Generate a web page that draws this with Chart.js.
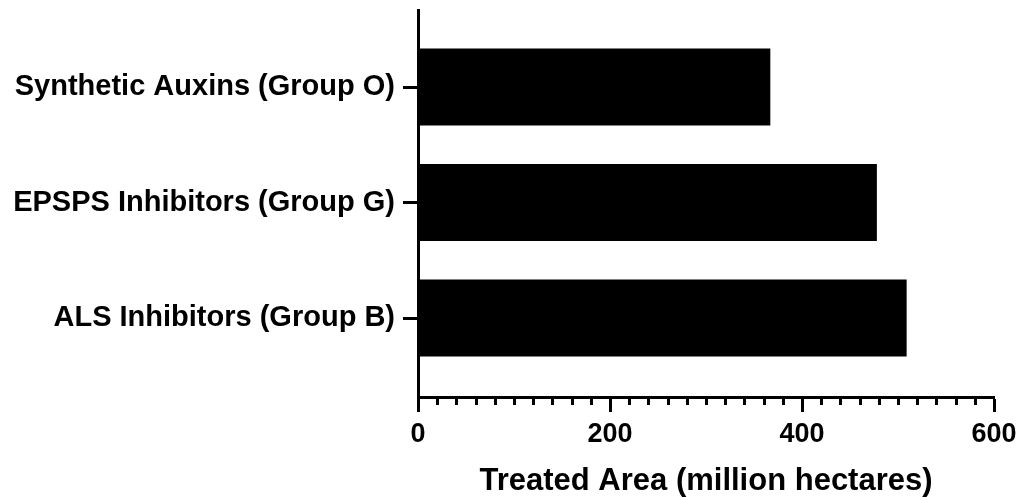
<!DOCTYPE html>
<html>
<head>
<meta charset="utf-8">
<script src="https://cdn.jsdelivr.net/npm/chart.js@4.4.1/dist/chart.umd.min.js"></script>
<style>
  html, body { margin: 0; padding: 0; background: #ffffff; }
  #wrap { width: 1023px; height: 500px; position: relative; }
</style>
</head>
<body>
<div id="wrap"><canvas id="chart"></canvas></div>
<script>
// Herbicide mode-of-action groups, listed top to bottom
const categories = [
  'Synthetic Auxins (Group O)',
  'EPSPS Inhibitors (Group G)',
  'ALS Inhibitors (Group B)'
];
// Treated area, million hectares
const treatedArea = [367, 478, 509];
// Labelled ticks on the value axis
const xTickValues = [0, 200, 400, 600];
const xAxisTitle = 'Treated Area (million hectares)';

const FONT = "'Liberation Sans', Arial, Helvetica, sans-serif";
const MINOR_STEP = 20;

// Short unlabelled ticks between the labelled ones
const minorTicks = {
  id: 'minorTicks',
  afterDraw(chart) {
    const x = chart.scales.x;
    const ctx = chart.ctx;
    const yTop = chart.chartArea.bottom;
    ctx.save();
    ctx.strokeStyle = '#000';
    ctx.lineWidth = 3;
    ctx.lineCap = 'butt';
    for (let v = x.min; v <= x.max; v += MINOR_STEP) {
      if (xTickValues.includes(v)) continue;
      const px = Math.round(x.getPixelForValue(v)) + 0.5;
      ctx.beginPath();
      ctx.moveTo(px, yTop);
      ctx.lineTo(px, yTop + 8);
      ctx.stroke();
    }
    ctx.restore();
  }
};

new Chart(document.getElementById('chart'), {
  type: 'bar',
  data: {
    datasets: [{
      data: categories.map((c, i) => ({ x: treatedArea[i], y: i })),
      backgroundColor: '#000000',
      borderWidth: 0,
      categoryPercentage: 1,
      barPercentage: 0.667
    }]
  },
  plugins: [minorTicks],
  options: {
    indexAxis: 'y',
    responsive: true,
    maintainAspectRatio: false,
    animation: false,
    layout: { padding: { top: 10, right: 29, bottom: 0, left: 0 } },
    plugins: { legend: { display: false }, tooltip: { enabled: false } },
    scales: {
      x: {
        type: 'linear',
        position: 'bottom',
        min: 0,
        max: 600,
        afterBuildTicks: s => { s.ticks = xTickValues.map(v => ({ value: v })); },
        afterFit: s => { s.height = 103; s.paddingLeft = 0; s.paddingRight = 0; },
        border: { display: true, color: '#000', width: 3 },
        grid: { drawOnChartArea: false, color: '#000', tickColor: '#000', tickLength: 15, tickWidth: 3 },
        ticks: {
          color: '#000',
          padding: 6,
          font: { family: FONT, size: 27, weight: 'bold' }
        },
        title: {
          display: true,
          text: xAxisTitle,
          color: '#000',
          padding: { top: 2, bottom: 0 },
          font: { family: FONT, size: 31, weight: 'bold' }
        }
      },
      y: {
        type: 'linear',
        position: 'left',
        reverse: true,
        offset: false,
        min: -0.667,
        max: 2.684,
        afterBuildTicks: s => { s.ticks = categories.map((c, i) => ({ value: i })); },
        afterFit: s => { s.width = 418; s.paddingTop = 0; s.paddingBottom = 0; },
        border: { display: true, color: '#000', width: 3 },
        grid: { offset: false, drawOnChartArea: false, color: '#000', tickColor: '#000', tickLength: 15, tickWidth: 3 },
        ticks: {
          color: '#000',
          padding: 8,
          callback: v => categories[v],
          font: { family: FONT, size: 29, weight: 'bold' }
        }
      }
    }
  }
});
</script>
</body>
</html>
